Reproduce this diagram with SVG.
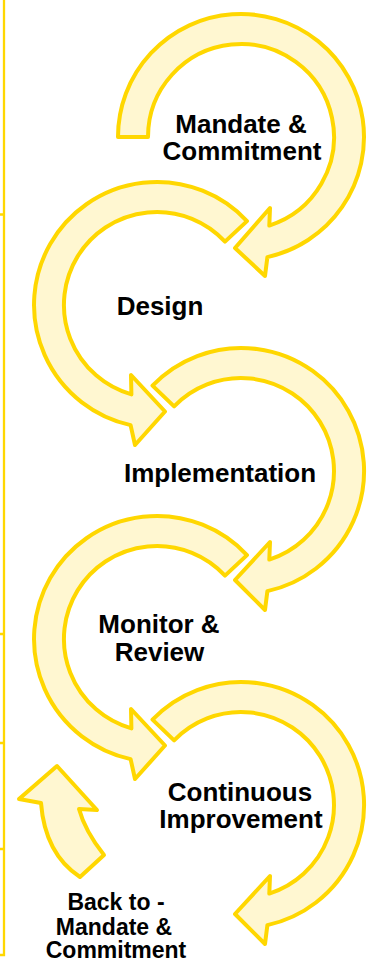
<svg xmlns="http://www.w3.org/2000/svg" width="376" height="960" viewBox="0 0 376 960">
<style>
.arr{fill:#FFF7D1;stroke:#FFD700;stroke-width:4;stroke-linejoin:round}
.edge{stroke:#FFD700;stroke-width:2.3;fill:none}
.t{font-family:"Liberation Sans",Arial,sans-serif;font-weight:bold;font-size:26px;fill:#000;text-anchor:middle}
.s{font-size:23px}
</style>
<rect width="376" height="960" fill="#fff"/>
<g id="frame">
<path class="edge" d="M4,0 V955 H0"/>
<path class="edge" d="M0,214.5 H4 M0,634 H4 M0,743 H4 M0,849 H4"/>
</g>
<g id="connectors">
<path id="arrow-mandate" class="arr" d="M118,137 A123,123 0 1 1 267.4,257.1 L265,276 L235,248 L270,208 L269.3,225.6 A93,93 0 1 0 148,137 Z"/>
<path id="arrow-design" class="arr" d="M247,221.1 A123,123 0 1 0 130.6,425.1 L135,445 L165,411.5 L131,375 L131.4,394.4 A93,93 0 1 1 225,241.6 Z"/>
<path id="arrow-implementation" class="arr" d="M152.5,385.6 A123,123 0 1 1 267.4,591.1 L265,610 L235,580 L270,542 L269.3,559.6 A93,93 0 1 0 174.1,406.4 Z"/>
<path id="arrow-monitor" class="arr" d="M247,555.1 A123,123 0 1 0 130.6,759.1 L135,779 L165,745.5 L131,709 L131.4,728.4 A93,93 0 1 1 225,575.6 Z"/>
<path id="arrow-continuous" class="arr" d="M152.5,719.6 A123,123 0 1 1 267.4,925.1 L265,944 L235,914 L270,876 L269.3,893.6 A93,93 0 1 0 174.1,740.4 Z"/>
<path id="arrow-back" class="arr" d="M41,803 L19,799 L57,766 L97,810 L79,809 Q85,831 104,855 L80,877 Q45,854 41,803 Z"/>
</g>
<g id="node-mandate"><text class="t" x="241" y="133">Mandate &amp;</text><text class="t" x="242" y="160">Commitment</text></g>
<g id="node-design"><text class="t" x="160" y="315">Design</text></g>
<g id="node-implementation"><text class="t" x="220" y="482">Implementation</text></g>
<g id="node-monitor"><text class="t" x="159" y="633">Monitor &amp;</text><text class="t" x="159.5" y="661">Review</text></g>
<g id="node-continuous"><text class="t" x="240" y="801">Continuous</text><text class="t" x="241" y="828">Improvement</text></g>
<g id="node-back"><text class="t s" x="116" y="910">Back to -</text><text class="t s" x="114" y="935">Mandate &amp;</text><text class="t s" x="116" y="958">Commitment</text></g>
</svg>
